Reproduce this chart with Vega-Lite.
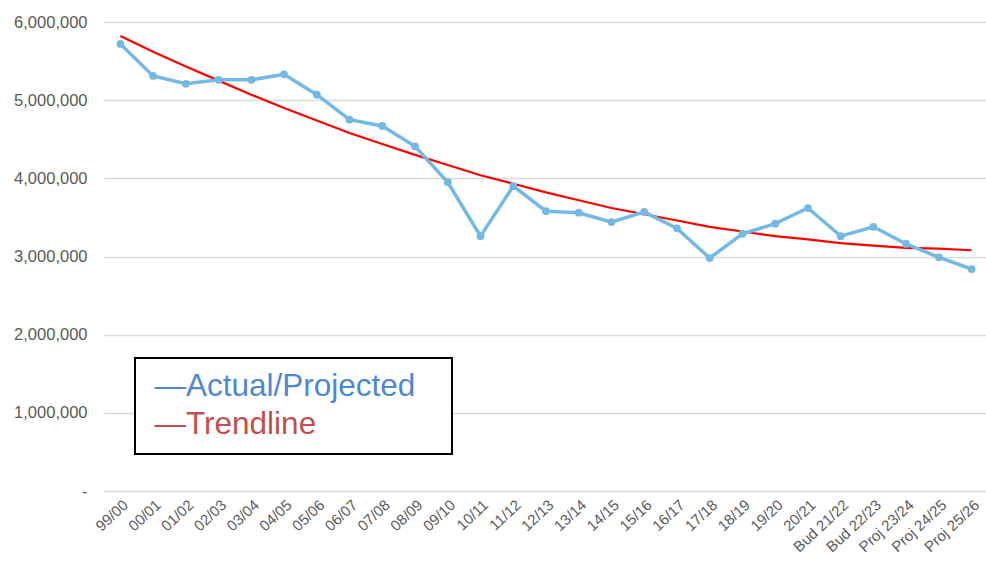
{
  "$schema": "https://vega.github.io/schema/vega-lite/v6.json",
  "width": 884,
  "height": 469,
  "autosize": "none",
  "padding": {"left": 104, "top": 22, "right": 0, "bottom": 74},
  "background": "white",
  "config": {
    "font": "Liberation Sans",
    "view": {"stroke": null},
    "axis": {"labelFont": "Liberation Sans", "labelColor": "#595959"}
  },
  "data": {
    "values": [
      {"period": "99/00", "series": "Actual/Projected", "value": 5720000},
      {"period": "00/01", "series": "Actual/Projected", "value": 5310000},
      {"period": "01/02", "series": "Actual/Projected", "value": 5210000},
      {"period": "02/03", "series": "Actual/Projected", "value": 5260000},
      {"period": "03/04", "series": "Actual/Projected", "value": 5260000},
      {"period": "04/05", "series": "Actual/Projected", "value": 5330000},
      {"period": "05/06", "series": "Actual/Projected", "value": 5070000},
      {"period": "06/07", "series": "Actual/Projected", "value": 4750000},
      {"period": "07/08", "series": "Actual/Projected", "value": 4670000},
      {"period": "08/09", "series": "Actual/Projected", "value": 4410000},
      {"period": "09/10", "series": "Actual/Projected", "value": 3950000},
      {"period": "10/11", "series": "Actual/Projected", "value": 3260000},
      {"period": "11/12", "series": "Actual/Projected", "value": 3900000},
      {"period": "12/13", "series": "Actual/Projected", "value": 3580000},
      {"period": "13/14", "series": "Actual/Projected", "value": 3560000},
      {"period": "14/15", "series": "Actual/Projected", "value": 3440000},
      {"period": "15/16", "series": "Actual/Projected", "value": 3570000},
      {"period": "16/17", "series": "Actual/Projected", "value": 3360000},
      {"period": "17/18", "series": "Actual/Projected", "value": 2980000},
      {"period": "18/19", "series": "Actual/Projected", "value": 3290000},
      {"period": "19/20", "series": "Actual/Projected", "value": 3420000},
      {"period": "20/21", "series": "Actual/Projected", "value": 3620000},
      {"period": "Bud 21/22", "series": "Actual/Projected", "value": 3260000},
      {"period": "Bud 22/23", "series": "Actual/Projected", "value": 3380000},
      {"period": "Proj 23/24", "series": "Actual/Projected", "value": 3160000},
      {"period": "Proj 24/25", "series": "Actual/Projected", "value": 2990000},
      {"period": "Proj 25/26", "series": "Actual/Projected", "value": 2840000},
      {"period": "99/00", "series": "Trendline", "value": 5820000},
      {"period": "00/01", "series": "Trendline", "value": 5620000},
      {"period": "01/02", "series": "Trendline", "value": 5430000},
      {"period": "02/03", "series": "Trendline", "value": 5250000},
      {"period": "03/04", "series": "Trendline", "value": 5070000},
      {"period": "04/05", "series": "Trendline", "value": 4900000},
      {"period": "05/06", "series": "Trendline", "value": 4740000},
      {"period": "06/07", "series": "Trendline", "value": 4580000},
      {"period": "07/08", "series": "Trendline", "value": 4440000},
      {"period": "08/09", "series": "Trendline", "value": 4300000},
      {"period": "09/10", "series": "Trendline", "value": 4170000},
      {"period": "10/11", "series": "Trendline", "value": 4040000},
      {"period": "11/12", "series": "Trendline", "value": 3930000},
      {"period": "12/13", "series": "Trendline", "value": 3820000},
      {"period": "13/14", "series": "Trendline", "value": 3720000},
      {"period": "14/15", "series": "Trendline", "value": 3620000},
      {"period": "15/16", "series": "Trendline", "value": 3540000},
      {"period": "16/17", "series": "Trendline", "value": 3460000},
      {"period": "17/18", "series": "Trendline", "value": 3380000},
      {"period": "18/19", "series": "Trendline", "value": 3320000},
      {"period": "19/20", "series": "Trendline", "value": 3260000},
      {"period": "20/21", "series": "Trendline", "value": 3220000},
      {"period": "Bud 21/22", "series": "Trendline", "value": 3170000},
      {"period": "Bud 22/23", "series": "Trendline", "value": 3140000},
      {"period": "Proj 23/24", "series": "Trendline", "value": 3110000},
      {"period": "Proj 24/25", "series": "Trendline", "value": 3100000},
      {"period": "Proj 25/26", "series": "Trendline", "value": 3080000}
    ]
  },
  "encoding": {
    "x": {
      "field": "period",
      "type": "ordinal",
      "sort": null,
      "title": null,
      "axis": {
        "labelAngle": -43,
        "labelFontSize": 15,
        "labelPadding": 6,
        "ticks": false,
        "domain": false,
        "grid": false
      }
    },
    "y": {
      "field": "value",
      "type": "quantitative",
      "title": null,
      "scale": {"domain": [0, 6000000], "nice": false},
      "axis": {
        "values": [0, 1000000, 2000000, 3000000, 4000000, 5000000, 6000000],
        "labelExpr": "datum.value == 0 ? '-' : format(datum.value, ',')",
        "labelFontSize": 16.5,
        "labelPadding": 17,
        "ticks": false,
        "domain": false,
        "grid": true,
        "gridColor": "#d9d9d9",
        "gridWidth": 1.3
      }
    }
  },
  "layer": [
    {
      "transform": [{"filter": "datum.series == 'Trendline'"}],
      "mark": {"type": "line", "strokeWidth": 2.2},
      "encoding": {
        "color": {
          "field": "series",
          "type": "nominal",
          "scale": {"domain": ["Actual/Projected", "Trendline"], "range": ["#74b8e4", "#ff0000"]},
          "legend": {
            "orient": "none",
            "legendX": 31,
            "legendY": 336,
            "title": null,
            "direction": "vertical",
            "labelFont": "Liberation Sans",
            "labelFontSize": 31.5,
            "labelExpr": "'—' + datum.label + '\u2800'",
            "labelOffset": -25,
            "labelLimit": 1000,
            "symbolType": "stroke",
            "symbolSize": 1,
            "symbolStrokeWidth": 0,
            "symbolOpacity": 0,
            "rowPadding": 5,
            "padding": 13,
            "strokeColor": "#000000",
            "fillColor": "#ffffff",
            "encode": {
              "labels": {
                "update": {
                  "fill": {"signal": "datum.value === 'Trendline' ? '#c0504d' : '#4f87d0'"}
                }
              },
              "legend": {"update": {"strokeWidth": {"value": 2}}}
            }
          }
        }
      }
    },
    {
      "transform": [{"filter": "datum.series == 'Actual/Projected'"}],
      "mark": {"type": "line", "strokeWidth": 3.5},
      "encoding": {
        "color": {"field": "series", "type": "nominal"}
      }
    },
    {
      "transform": [{"filter": "datum.series == 'Actual/Projected'"}],
      "mark": {"type": "point", "filled": true, "opacity": 1, "size": 60, "color": "#74b8e4"}
    }
  ]
}
